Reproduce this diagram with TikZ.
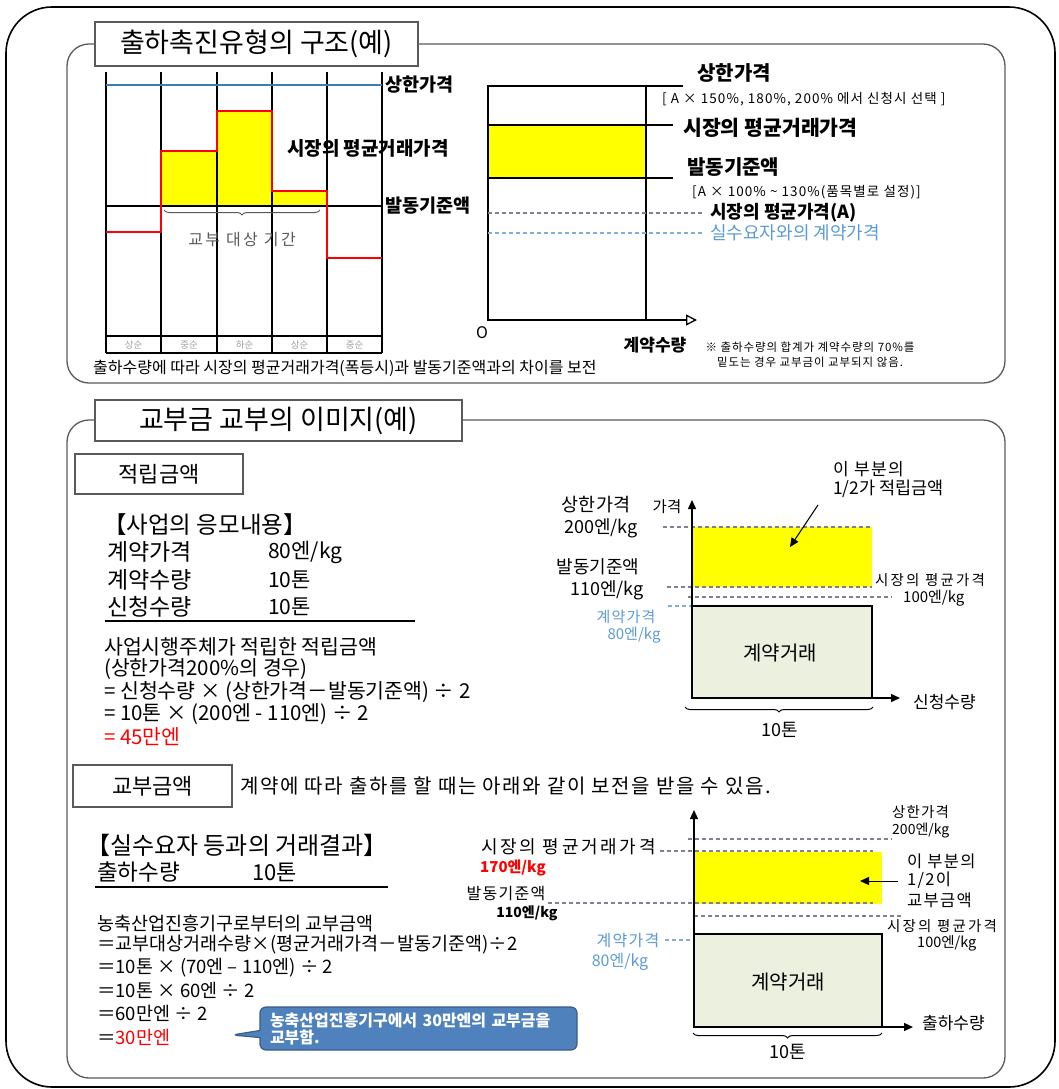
\documentclass[tikz,border=0pt]{standalone}
\usepackage{fontspec}
\setmainfont{Noto Sans CJK KR}
\newfontfamily\spcA{Noto Sans CJK KR}[LetterSpace=8]
\newfontfamily\spcB{Noto Sans CJK KR}[LetterSpace=15]
\usetikzlibrary{arrows.meta,positioning,decorations.pathreplacing,shapes.callouts}
\definecolor{capblu}{HTML}{3C7EB4}
\definecolor{hiy}{HTML}{FFFF00}
\definecolor{mkred}{HTML}{FF0000}
\definecolor{ctrblu}{HTML}{5B9BD5}
\definecolor{ctrfill}{HTML}{EBF1DE}
\definecolor{callblu}{HTML}{4F81BD}
\definecolor{calledge}{HTML}{385D8A}
\definecolor{dashgr}{HTML}{7F7F8F}
\definecolor{txtgr}{HTML}{595959}
\definecolor{lightgr}{HTML}{A0A0A0}
\definecolor{framegr}{HTML}{5A5A5A}
\newcommand{\fsz}[1]{\fontsize{#1}{#1}\selectfont}

\begin{document}
\begin{tikzpicture}[x=1pt,y=-1pt,
    lbl/.style={inner sep=0pt,anchor=west},
    bld/.style={lbl,font=\fsz{18.5}\bfseries},
    ttlbox/.style={draw=framegr,fill=white,line width=1.3pt,font=\fsz{27}},
    subbox/.style={draw=framegr,line width=1.2pt,font=\fsz{22}},
    panel/.style={draw=framegr,line width=1.3pt,rounded corners=22pt},
    dsh/.style={dashgr,line width=1.1pt,dash pattern=on 4pt off 3pt},
    bdsh/.style={ctrblu!80,line width=1.1pt,dash pattern=on 4pt off 3pt},
    arr/.style={-{Triangle[length=9pt,width=8pt]},line width=1.4pt},
    brc/.style={decorate,decoration={brace,amplitude=5pt},line width=1pt},
    ctrbox/.style={fill=ctrfill,draw=black,line width=2pt}
]
\useasboundingbox (0,0) rectangle (1058,1089);
\draw[line width=1.6pt,rounded corners=46pt] (6,7) rectangle (1055,1087);

% upper panel
\draw[panel] (67,44) rectangle (1005,383);
\node[ttlbox,minimum width=323pt,minimum height=44pt] (ttlA) at (256.5,44) {출하촉진유형의 구조(예)};

\fill[hiy] (161,206) -- (161,151) -- (217,151) -- (217,111) -- (272,111) -- (272,191) -- (327,191) -- (327,206) -- cycle;
\foreach \x in {106,161,217,272,327,382}
    \draw[line width=1.1pt] (\x,72) -- (\x,353);
\draw[line width=1.1pt] (106,336) -- (382,336);
\draw[line width=1.1pt] (106,353) -- (382,353);
\draw[line width=1.1pt] (106,206) -- (382,206);
\draw[capblu,line width=2.2pt] (106,85) -- (382,85);
\draw[mkred,line width=2.6pt] (106,232) -- (161,232) -- (161,151) -- (217,151) -- (217,111) -- (272,111) -- (272,191) -- (327,191) -- (327,258) -- (382,258);
\draw[brc,txtgr] (320,210) -- (164,210);
\node[font=\spcB\fsz{16},text=txtgr] (tlperiod) at (242,240) {교부 대상 기간};
\foreach \xm/\lab [count=\i] in {133.5/상순,189/중순,244.5/하순,299.5/상순,354.5/중순}
    \node[font=\fsz{9.5},text=lightgr] (dek\i) at (\xm,345) {\lab};
\node[bld] (tlcap) at (385,85) {상한가격};
\node[bld,font=\fsz{19}\bfseries] (tlavg) at (287,148) {시장의 평균거래가격};
\node[bld] (tltrig) at (385,206) {발동기준액};
\node[lbl,font=\fsz{16}] (tlnote) at (93,368) {출하수량에 따라 시장의 평균거래가격(폭등시)과 발동기준액과의 차이를 보전};

\draw[line width=2pt] (488,86) rectangle (646,320);
\draw[line width=1.3pt] (646,86) -- (683,86);
\draw[fill=hiy,line width=2.6pt] (488,125) rectangle (646,178);
\draw[line width=1.3pt] (646,125) -- (673,125);
\draw[line width=1.3pt] (646,178) -- (673,178);
\draw[dsh] (488,213) -- (703,213);
\draw[bdsh] (488,233) -- (703,233);
\draw[-{Triangle[open,length=11pt,width=11pt]},line width=1.3pt] (646,320) -- (697,320);
\node[lbl,font=\fsz{20}\bfseries] (trcap) at (697,73) {상한가격};
\node[lbl,font=\spcA\fsz{13.5}] (trcapnote) at (662,99) {[ A × 150\%, 180\%, 200\% 에서 신청시 선택 ]};
\node[lbl,font=\fsz{20.5}\bfseries] (travg) at (683,128) {시장의 평균거래가격};
\node[lbl,font=\fsz{20}\bfseries] (trtrig) at (687,167) {발동기준액};
\node[lbl,font=\spcA\fsz{13.5}] (trtrignote) at (692,192) {[A × 100\% \textasciitilde{} 130\%(품목별로 설정)]};
\node[lbl,font=\fsz{18}\bfseries] (trmkt) at (710,213) {시장의 평균가격(A)};
\node[lbl,font=\fsz{18},text=ctrblu] (trctr) at (710,233) {실수요자와의 계약가격};
\node[font=\fsz{16}] (trorig) at (482,333) {O};
\node[font=\fsz{17}\bfseries] (trqty) at (655,345) {계약수량};
\node[font=\spcA\fsz{11.5}] (trnoteA) at (810,347) {※ 출하수량의 합계가 계약수량의 70\%를};
\node[font=\spcA\fsz{11.5}] (trnoteB) at (810,362) {밑도는 경우 교부금이 교부되지 않음.};

% lower panel
\draw[panel] (67,420) rectangle (1005,1078);
\node[ttlbox,minimum width=367pt,minimum height=41pt] (ttlB) at (278.5,420.5) {교부금 교부의 이미지(예)};

\node[subbox,minimum width=168pt,minimum height=40pt] (jeokbox) at (159,474) {적립금액};
\node[lbl,font=\fsz{23.5}] (apphead) at (103,525) {【사업의 응모내용】};
\node[lbl,font=\fsz{23}] (ctrprice) at (107,552) {계약가격};
\node[lbl,font=\fsz{21}] (ctrpricev) at (268,552) {80엔/kg};
\node[lbl,font=\fsz{23}] (ctrqty) at (107,580) {계약수량};
\node[lbl,font=\fsz{21}] (ctrqtyv) at (268,580) {10톤};
\node[lbl,font=\fsz{23}] (reqqty) at (107,607) {신청수량};
\node[lbl,font=\fsz{21}] (reqqtyv) at (268,607) {10톤};
\draw[line width=1.2pt] (105,621) -- (415,621);
\node[lbl,font=\fsz{20.5}] (saveA) at (104,647) {사업시행주체가 적립한 적립금액};
\node[lbl,font=\fsz{20.5}] (saveB) at (104,669) {(상한가격200\%의 경우)};
\node[lbl,font=\fsz{20.5}] (saveC) at (104,692) {= 신청수량 × (상한가격－발동기준액) ÷ 2};
\node[lbl,font=\fsz{20.5}] (saveD) at (104,714) {= 10톤 × (200엔 - 110엔) ÷ 2};
\node[lbl,font=\fsz{20.5},text=mkred] (saveE) at (104,737) {= 45만엔};

\fill[hiy] (692,527) rectangle (872,587);
\draw[dsh] (663,527) -- (872,527);
\draw[dsh] (667,587) -- (872,587);
\draw[dsh] (688,597) -- (892,597);
\draw[bdsh] (668,606) -- (692,606);
\draw[ctrbox] (692,606) rectangle (872,698);
\draw[arr] (692,698) -- (692,500);
\draw[arr] (692,698) -- (900,698);
\draw[brc] (873,707) -- (685,707);
\node[font=\fsz{18.5}] (mcap) at (596,505) {상한가격};
\node[font=\fsz{18}] (mcapv) at (601,528) {200엔/kg};
\node[font=\fsz{18}] (mtrig) at (598,567) {발동기준액};
\node[font=\fsz{18}] (mtrigv) at (607,590) {110엔/kg};
\node[font=\fsz{15.5}] (mprice) at (667,507) {가격};
\node[font=\spcA\fsz{15},text=ctrblu] (mctr) at (626,617) {계약가격};
\node[font=\fsz{15},text=ctrblu] (mctrv) at (634,635) {80엔/kg};
\node[lbl,font=\spcB\fsz{14.5}] (mmkt) at (875,580) {시장의 평균가격};
\node[lbl,font=\fsz{15}] (mmktv) at (903,598) {100엔/kg};
\node[font=\fsz{20}] (mdeal) at (780,653) {계약거래};
\node[lbl,font=\fsz{17}] (mqty) at (913,702) {신청수량};
\node[font=\fsz{18}] (mton) at (780,730) {10톤};
\node[lbl,font=\spcA\fsz{17}] (mpartA) at (833,469) {이 부분의};
\node[lbl,font=\fsz{17.5}] (mpartB) at (833,489) {1/2가 적립금액};
\coordinate (mtail) at (818,505);
\coordinate (mhead) at (790,547);
\draw[arr,line width=1pt] (mtail) -- (mhead);

\node[subbox,minimum width=159pt,minimum height=42pt] (gyobox) at (152.5,786) {교부금액};
\node[lbl,font=\spcA\fsz{20}] (gyonote) at (240,786) {계약에 따라 출하를 할 때는 아래와 같이 보전을 받을 수 있음.};
\node[lbl,font=\fsz{24}] (dealhead) at (86,845) {【실수요자 등과의 거래결과】};
\node[lbl,font=\fsz{22.5}] (shipqty) at (97,872) {출하수량};
\node[lbl,font=\fsz{22}] (shipqtyv) at (252,872) {10톤};
\draw[line width=1.2pt] (95,887) -- (388,887);
\node[lbl,font=\fsz{18.5}] (payA) at (97,923) {농축산업진흥기구로부터의 교부금액};
\node[lbl,font=\fsz{18.5}] (payB) at (97,945) {＝교부대상거래수량×(평균거래가격－발동기준액)÷2};
\node[lbl,font=\fsz{18.5}] (payC) at (97,968) {＝10톤 × (70엔 – 110엔) ÷ 2};
\node[lbl,font=\fsz{18.5}] (payD) at (97,990) {＝10톤 × 60엔 ÷ 2};
\node[lbl,font=\fsz{18.5}] (payE) at (97,1013) {＝60만엔 ÷ 2};
\node[lbl,font=\fsz{18.5}] (payF) at (97,1037) {＝\textcolor{mkred}{30만엔}};
\node[rectangle callout,callout absolute pointer={(232,1035)},fill=callblu,draw=calledge,line width=1.2pt,
    rounded corners=6pt,text=white,font=\fsz{16}\bfseries,align=left,text width=297pt,inner xsep=10pt,
    minimum height=43pt] (callbox) at (418.5,1028.5) {농축산업진흥기구에서 30만엔의 교부금을\\[1pt]교부함.};

\draw[dsh] (688,839) -- (892,839);
\draw[dsh] (660,851) -- (873,851);
\fill[hiy] (694,852) rectangle (882,904);
\draw[dsh] (548,903) -- (873,903);
\draw[dsh] (694,916) -- (902,916);
\draw[bdsh] (665,940) -- (694,940);
\draw[ctrbox] (694,934) rectangle (882,1027);
\draw[arr] (694,1027) -- (694,810);
\draw[arr] (694,1027) -- (913,1027);
\draw[brc] (882,1033) -- (693,1033);
\node[lbl,font=\spcA\fsz{14.5}] (bcap) at (892,812) {상한가격};
\node[lbl,font=\fsz{14}] (bcapv) at (892,830) {200엔/kg};
\node[anchor=east,inner sep=0pt,font=\spcB\fsz{18}] (bavg) at (656,847) {시장의 평균거래가격};
\node[font=\fsz{15}\bfseries,text=mkred] (bavgv) at (513,868) {170엔/kg};
\node[font=\spcA\fsz{16}] (btrig) at (506,893) {발동기준액};
\node[font=\fsz{14}\bfseries] (btrigv) at (527,913) {110엔/kg};
\node[font=\spcA\fsz{16},text=ctrblu] (bctr) at (628,940) {계약가격};
\node[font=\fsz{16},text=ctrblu] (bctrv) at (620,962) {80엔/kg};
\node[lbl,font=\spcB\fsz{14.5}] (bmkt) at (887,926) {시장의 평균가격};
\node[lbl,font=\fsz{14.5}] (bmktv) at (917,943) {100엔/kg};
\node[font=\fsz{20}] (bdeal) at (788,982) {계약거래};
\node[lbl,font=\fsz{17}] (bqty) at (922,1023) {출하수량};
\node[font=\fsz{18}] (bton) at (788,1052) {10톤};
\node[lbl,font=\spcA\fsz{16.5}] (bpartA) at (907,861) {이 부분의};
\node[lbl,font=\spcA\fsz{16.5}] (bpartB) at (907,880.5) {1/2이};
\node[lbl,font=\spcA\fsz{16.5}] (bpartC) at (907,900) {교부금액};
\coordinate (btail) at (898,881);
\coordinate (bhead) at (860,881);
\draw[arr,line width=1pt] (btail) -- (bhead);
\end{tikzpicture}
\end{document}
